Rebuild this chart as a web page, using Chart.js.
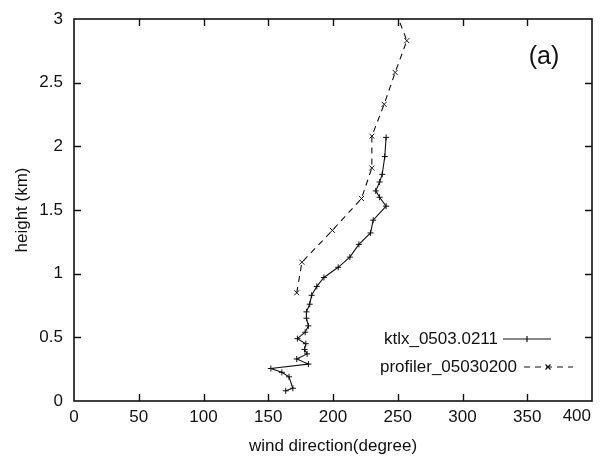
<!DOCTYPE html>
<html>
<head>
<meta charset="utf-8">
<script src="https://cdn.jsdelivr.net/npm/chart.js@4.4.1/dist/chart.umd.min.js"></script>
<style>
  html, body { margin: 0; padding: 0; background: #fff; }
  #wrap { width: 600px; height: 461px; }
</style>
</head>
<body>
<div id="wrap"><canvas id="chart"></canvas></div>
<script>
// Wind direction profiles.
var ktlxDir = [163.5, 169, 166, 160.5, 152, 181, 172, 180, 178, 179, 172.5, 178.5, 181, 179.5, 179.5,
  182, 183.5, 187.5, 193, 204, 213, 220, 229, 231, 241, 236, 233, 236, 238, 240, 241];
var ktlxHeight = [0.08, 0.10, 0.19, 0.225, 0.255, 0.29, 0.33, 0.37, 0.405, 0.45, 0.49, 0.54, 0.59, 0.65, 0.70,
  0.76, 0.83, 0.90, 0.97, 1.05, 1.13, 1.23, 1.32, 1.42, 1.53, 1.60, 1.65, 1.72, 1.78, 1.92, 2.07];

var profilerDir = [172, 176, 199.5, 222, 230, 230, 239.5, 248, 257, 248];
var profilerHeight = [0.85, 1.09, 1.34, 1.59, 1.83, 2.08, 2.33, 2.58, 2.83, 3.07];

var seriesNames = ["ktlx_0503.0211", "profiler_05030200"];
var xTicks = [0, 50, 100, 150, 200, 250, 300, 350, 400];
var yTicks = [0, 0.5, 1, 1.5, 2, 2.5, 3];
var xTitle = "wind direction(degree)";
var yTitle = "height (km)";
var panelLabel = "(a)";

var ink = "#111";
var fontFamily = '"Liberation Sans", Arial, Helvetica, sans-serif';
var tickFont = { family: fontFamily, size: 17 };

function pairs(xs, ys) {
  return xs.map(function (x, i) { return { x: x, y: ys[i] }; });
}

// frame, inward tick marks, key and panel label, drawn over the plot
var decorations = {
  id: "decorations",
  afterDraw: function (chart) {
    var ctx = chart.ctx;
    var a = chart.chartArea;
    var xs = chart.scales.x, ys = chart.scales.y;
    ctx.save();
    ctx.strokeStyle = ink;
    ctx.lineWidth = 1.6;
    ctx.strokeRect(a.left, a.top, a.right - a.left, a.bottom - a.top);

    ctx.lineWidth = 1.4;
    ctx.beginPath();
    xTicks.slice(1, -1).forEach(function (v) {
      var px = Math.round(xs.getPixelForValue(v)) + 0.5;
      ctx.moveTo(px, a.bottom); ctx.lineTo(px, a.bottom - 7);
      ctx.moveTo(px, a.top); ctx.lineTo(px, a.top + 7);
    });
    yTicks.slice(1, -1).forEach(function (v) {
      var py = Math.round(ys.getPixelForValue(v)) + 0.5;
      ctx.moveTo(a.left, py); ctx.lineTo(a.left + 7, py);
      ctx.moveTo(a.right, py); ctx.lineTo(a.right - 7, py);
    });
    ctx.stroke();

    ctx.fillStyle = ink;
    ctx.font = "17px " + fontFamily;
    ctx.textBaseline = "middle";

    // last x label sits flush with the right edge of the frame
    var last = xTicks[xTicks.length - 1];
    ctx.textAlign = "right";
    ctx.fillText(String(last), xs.getPixelForValue(last) - 1, a.bottom + 15);

    // key
    ctx.fillText(seriesNames[0], 498, 339);
    ctx.fillText(seriesNames[1], 517, 367);

    ctx.lineWidth = 1.2;
    ctx.beginPath();
    ctx.moveTo(503, 339); ctx.lineTo(551, 339);
    ctx.moveTo(527, 336); ctx.lineTo(527, 342);
    ctx.stroke();

    ctx.setLineDash([6, 5]);
    ctx.beginPath();
    ctx.moveTo(524, 367); ctx.lineTo(573, 367);
    ctx.stroke();
    ctx.setLineDash([]);
    ctx.beginPath();
    ctx.moveTo(545.5, 364.5); ctx.lineTo(550.5, 369.5);
    ctx.moveTo(550.5, 364.5); ctx.lineTo(545.5, 369.5);
    ctx.stroke();

    // panel label
    ctx.font = "25px " + fontFamily;
    ctx.textAlign = "center";
    ctx.fillText(panelLabel, 544, 57);
    ctx.restore();
  }
};

new Chart(document.getElementById("chart"), {
  type: "scatter",
  data: {
    datasets: [{
      label: seriesNames[0],
      data: pairs(ktlxDir, ktlxHeight),
      showLine: true,
      borderColor: ink,
      borderWidth: 1.1,
      pointStyle: "cross",
      pointRadius: 3,
      pointBorderWidth: 1,
      pointBorderColor: ink,
      pointBackgroundColor: ink,
      clip: 0,
    }, {
      label: seriesNames[1],
      data: pairs(profilerDir, profilerHeight),
      showLine: true,
      borderColor: ink,
      borderWidth: 1.1,
      borderDash: [6, 5],
      pointStyle: "crossRot",
      pointRadius: 3.5,
      pointBorderWidth: 1,
      pointBorderColor: ink,
      pointBackgroundColor: ink,
      clip: 0,
    }],
  },
  options: {
    responsive: true,
    maintainAspectRatio: false,
    animation: false,
    layout: { padding: { left: 0, right: 8, top: 19, bottom: 0 } },
    plugins: {
      legend: { display: false },
      tooltip: { enabled: false },
    },
    scales: {
      x: {
        type: "linear",
        min: 0,
        max: 400,
        afterBuildTicks: function (s) { s.ticks = xTicks.map(function (v) { return { value: v }; }); },
        ticks: {
          color: ink, font: tickFont, padding: 6, maxRotation: 0,
          callback: function (v) { return v === xTicks[xTicks.length - 1] ? "" : String(v); },
        },
        grid: { display: false, drawTicks: false },
        border: { display: false },
        title: { display: true, text: xTitle, color: ink, font: tickFont, padding: { top: 0, bottom: 4 } },
        afterFit: function (s) { s.height = 60; s.paddingLeft = 0; s.paddingRight = 0; },
      },
      y: {
        type: "linear",
        min: 0,
        max: 3,
        afterBuildTicks: function (s) { s.ticks = yTicks.map(function (v) { return { value: v }; }); },
        ticks: {
          color: ink, font: tickFont, padding: 11,
          callback: function (v) { return String(v); },
        },
        grid: { display: false, drawTicks: false },
        border: { display: false },
        title: { display: true, text: yTitle, color: ink, font: tickFont, padding: { top: 12, bottom: 0 } },
        afterFit: function (s) { s.width = 74; s.paddingTop = 0; s.paddingBottom = 0; },
      },
    },
  },
  plugins: [decorations],
});
</script>
</body>
</html>
